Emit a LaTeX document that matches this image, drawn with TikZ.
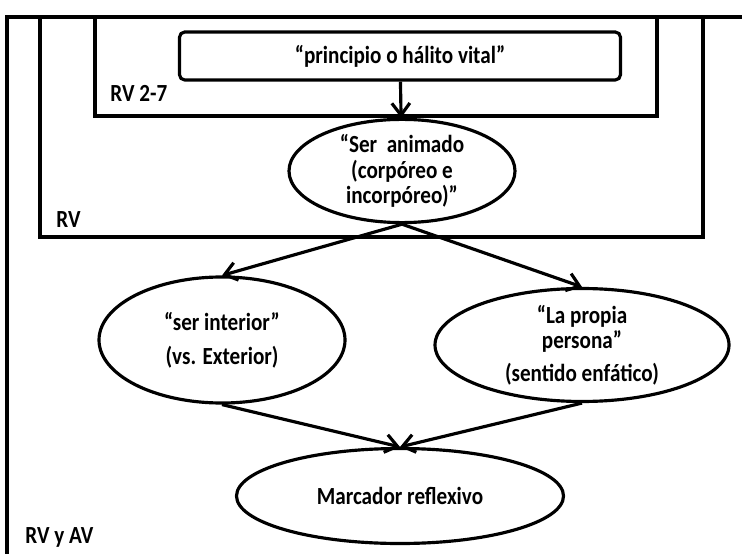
\documentclass[tikz,border=0pt]{standalone}
\usepackage{fontspec}
\setmainfont[FakeStretch=0.86]{Carlito}
\usetikzlibrary{shapes.geometric,arrows.meta}

\begin{document}
\begin{tikzpicture}[x=0.2mm,y=-0.2mm,line width=1.8pt,
   font=\fontsize{14}{14.5}\selectfont\bfseries,
   elip/.style={draw,ellipse,align=center,inner sep=0pt},
   flecha/.style={-{Straight Barb[length=2.4mm,width=3.6mm]}}]
   \useasboundingbox (0,0) rectangle (742,554);
   % marcos RV y AV, RV, RV 2-7
   \draw (7,554) -- (7,17) -- (742,17);
   \draw (40,17) rectangle (703,237);
   \draw (95,17) rectangle (657,116);
   \node[anchor=base west] (rv27) at (103,102) {RV 2-7};
   \node[anchor=base west] (rv) at (49,228) {RV};
   \node[anchor=base west] (rvav) at (18,543) {RV y AV};
   % nodos
   \node[draw,rounded corners=3pt,minimum width=88.2mm,minimum height=9.6mm] (halito) at (400,56) {“principio o hálito vital”};
   \node[elip,minimum width=45.2mm,minimum height=19.4mm] (animado) at (402,171) {“Ser\ \ animado\\(corpóreo e\\incorpóreo)”};
   \node[elip,minimum width=49.2mm,minimum height=25.2mm] (interior) at (222,340) {“ser interior”\\[5pt](vs. Exterior)};
   \node[elip,minimum width=58.8mm,minimum height=20.8mm] (propia) at (582,345) {“La propia\\persona”\\[4pt](sentido enfático)};
   \node[elip,minimum width=65.4mm,minimum height=19mm] (marcador) at (400,496) {Marcador reflexivo};
   % flechas
   \draw[flecha] (halito) -- (animado);
   \draw[flecha] (animado.south) -- (interior.north);
   \draw[flecha] (animado.south) -- (propia.north);
   \draw[flecha] (interior.south) -- (marcador.north);
   \draw[flecha] (propia.south) -- (marcador.north);
\end{tikzpicture}
\end{document}
